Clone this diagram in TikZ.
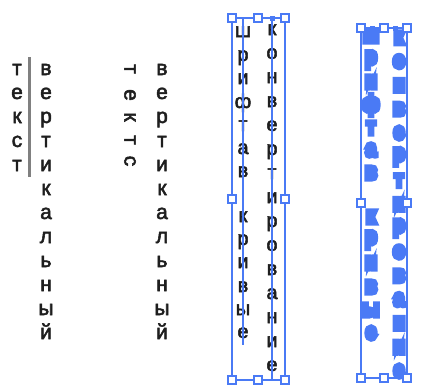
\documentclass[tikz,border=0pt]{standalone}
\usepackage{fontspec}
\setmainfont{Liberation Sans}
\newfontfamily\inkfont[FakeBold=2.5]{Liberation Sans}
\newfontfamily\blobfont[FakeBold=22]{Liberation Sans Bold}
\definecolor{selblue}{RGB}{74,122,245}
\definecolor{ink}{RGB}{30,30,30}
\definecolor{bargray}{RGB}{128,128,128}
\begin{document}
\begin{tikzpicture}[x=1pt,y=-1pt,
  glyph/.style={font=\inkfont\fontsize{21}{21}\selectfont, text=ink, inner sep=0, anchor=base},
  glyphs/.style={font=\inkfont\fontsize{20}{20}\selectfont, text=ink, inner sep=0, anchor=base},
  blob/.style={font=\blobfont\fontsize{19}{19}\selectfont, text=selblue, inner sep=0, anchor=center, yscale=1.2},
  bar/.style={draw=bargray, line width=3pt},
  sel/.style={draw=selblue, line width=1.1pt},
  handle/.style={draw=selblue, fill=white, line width=1.1pt, minimum size=8pt, inner sep=0, rectangle},
  anchorpt/.style={fill=selblue, minimum size=5pt, inner sep=0, rectangle}]
\useasboundingbox[fill=white] (0,0) rectangle (441,389);

% ---- group 1: horizontal letters stacked
\coordinate (bt) at (29,57);
\coordinate (bb) at (29,177);
\draw[bar] (bt) -- (bb);
\foreach \c [count=\i] in {т,е,к,с,т}
  \node[glyph] (a\i) at (17,{51+24*\i}) {\c};
\foreach \c [count=\i] in {в,е,р,т,и,к,а,л,ь,н,ы,й}
  \node[glyph] (b\i) at (46,{51+24*\i}) {\c};

% ---- group 2: rotated letters
\foreach \c/\yy [count=\i] in {т/69,е/95,к/117,т/140,с/161}
  \node[glyph, anchor=center, rotate=-90] (c\i) at (130,\yy) {\c};
\foreach \c [count=\i] in {в,е,р,т,и,к,а,л,ь,н,ы,й}
  \node[glyph] (d\i) at (162,{51+24*\i}) {\c};

% ---- group 3: vertical type, selected
\foreach \c/\yy [count=\i] in {ш/32,р/56,и/79,ф/103,т/126,а/149,в/172,к/217,р/240,и/263,в/287,ы/310,е/333}
  \node[glyphs] (e\i) at (243,{\yy+5}) {\c};
\foreach \c [count=\i] in {к,о,н,в,е,р,т,и,р,о,в,а,н,и,е}
  \node[glyphs] (f\i) at (272,{6+24*\i+5}) {\c};
\coordinate (r3a) at (232,18);
\coordinate (r3b) at (285,380);
\draw[sel] (r3a) rectangle (r3b);
\coordinate (l3t) at (243,18);
\coordinate (l3b) at (243,345);
\draw[sel] (l3t) -- (l3b);
\coordinate (m3b) at (272,380);
\node[anchorpt] (p3) at (272,18) {};
\draw[sel] (p3) -- (m3b);
\foreach \n/\xx/\yy in {h1/232/18,h2/258/18,h3/285/18,h4/232/199,h5/285/199,h6/232/380,h7/258/380,h8/285/380}
  \node[handle] (\n) at (\xx,\yy) {};

% ---- group 4: outlined (converted to curves), selected
\coordinate (r4a) at (361,28);
\coordinate (r4b) at (407,378);
\draw[sel] (r4a) rectangle (r4b);
\foreach \c/\yy [count=\i] in {ш/36,р/60,и/82,ф/105,т/128,а/150,в/173,к/217,р/240,и/263,в/287,ы/310,е/333}
  \node[blob] (g\i) at (371,\yy) {\c};
\foreach \c [count=\i] in {к,о,н,в,е,р,т,и,р,о,в,а,н,и,е}
  \node[blob] (k\i) at (399,{14+23.8*\i}) {\c};
\foreach \n/\xx/\yy in {q1/361/28,q2/384/28,q3/407/28,q4/361/203,q5/407/203,q6/361/378,q7/384/378,q8/407/378}
  \node[handle] (\n) at (\xx,\yy) {};
\node[anchorpt] (p4a) at (372,28) {};
\node[anchorpt] (p4b) at (395,28) {};
\end{tikzpicture}
\end{document}
